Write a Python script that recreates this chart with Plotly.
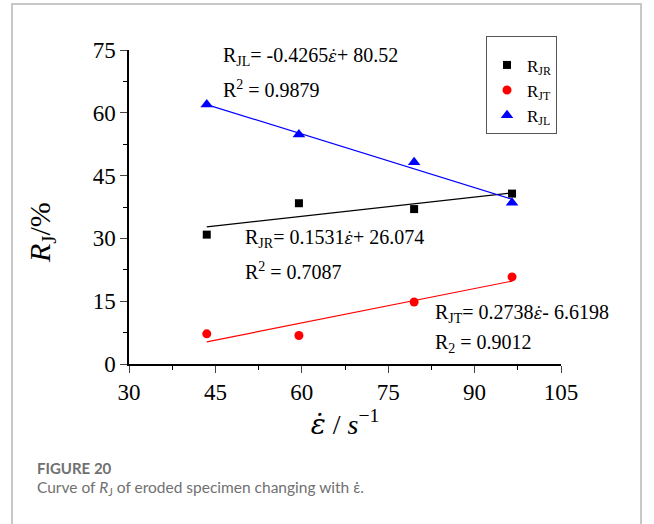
import plotly.graph_objects as go

# ---- data ----
strain_rate = [43.5, 59.5, 79.5, 96.5]
R_JR = [30.9, 38.4, 37.0, 40.7]
R_JT = [7.2, 6.8, 14.8, 20.8]
R_JL = [62.0, 54.8, 48.2, 38.5]
# linear fits (slope, intercept) as printed on the chart
fit_JR = (0.1531, 26.074)
fit_JT = (0.2738, -6.6198)
fit_JL = (-0.4265, 80.52)
x_ticks = [30, 45, 60, 75, 90, 105]
y_ticks = [0, 15, 30, 45, 60, 75]

SERIF = "Liberation Serif"
EPS = '<span style="font-family:DejaVu Serif">ε\u0307</span>'
EPS_S = '<span style="font-family:DejaVu Serif;font-size:16px">ε\u0307</span>'

fig = go.Figure()

def fit_line(coef):
    xs = [min(strain_rate), max(strain_rate)]
    return xs, [coef[0] * x + coef[1] for x in xs]

for coef, col in [(fit_JR, "black"), (fit_JT, "red"), (fit_JL, "blue")]:
    xs, ys = fit_line(coef)
    fig.add_trace(go.Scatter(x=xs, y=ys, mode="lines", line=dict(color=col, width=1.2),
                             showlegend=False, hoverinfo="skip"))

fig.add_trace(go.Scatter(x=strain_rate, y=R_JR, mode="markers", name="R<sub>JR</sub>",
                         marker=dict(symbol="square", size=8, color="black")))
fig.add_trace(go.Scatter(x=strain_rate, y=R_JT, mode="markers", name="R<sub>JT</sub>",
                         marker=dict(symbol="circle", size=9, color="red")))
fig.add_trace(go.Scatter(x=strain_rate, y=R_JL, mode="markers", name="R<sub>JL</sub>",
                         marker=dict(symbol="triangle-up", size=11, color="blue")))

W, H = 654, 524
ML, MR, MT, MB = 129, 93, 50, 160
PW, PH = W - ML - MR, H - MT - MB

def px(xp):
    return (xp - ML) / PW

def py(yp):
    return (MT + PH - yp) / PH

ann_font = dict(family=SERIF, size=20, color="black")
anns = [
    (221, 56, f"R<sub>JL</sub>= -0.4265<i>{EPS_S}</i>+ 80.52"),
    (221, 89, "R<sup>2</sup> = 0.9879"),
    (243, 238, f"R<sub>JR</sub>= 0.1531<i>{EPS_S}</i>+ 26.074"),
    (243, 271, "R<sup>2</sup> = 0.7087"),
    (433, 313, f"R<sub>JT</sub>= 0.2738<i>{EPS_S}</i>- 6.6198"),
    (433, 343, "R<sub>2</sub> = 0.9012"),
]
for x, y, t in anns:
    fig.add_annotation(x=px(x), y=py(y), xref="paper", yref="paper", text=t,
                       showarrow=False, xanchor="left", yanchor="middle", font=ann_font)

# y-axis title (placed to match the reference, slightly below centre)
fig.add_annotation(x=px(42), y=py(233), xref="paper", yref="paper",
                   text="<i>R</i><sub>J</sub>/%", textangle=-90, showarrow=False,
                   xanchor="center", yanchor="middle",
                   font=dict(family=SERIF, size=30, color="black"))

# caption
CAP = "Lato, Open Sans, sans-serif"
fig.add_annotation(x=px(35), y=py(468), xref="paper", yref="paper", text="<b>FIGURE 20</b>",
                   showarrow=False, xanchor="left", yanchor="middle",
                   font=dict(family=CAP, size=15, color="#707070"))
fig.add_annotation(x=px(35), y=py(488), xref="paper", yref="paper",
                   text="Curve of <i>R</i><sub>J</sub> of eroded specimen changing with ε\u0307.",
                   showarrow=False, xanchor="left", yanchor="middle",
                   font=dict(family=CAP, size=15.5, color="#707070"))

# page frame
fig.add_shape(type="rect", xref="paper", yref="paper",
              x0=px(12), x1=px(641), y0=py(540), y1=py(4),
              line=dict(color="#c8c8c8", width=2), fillcolor="rgba(0,0,0,0)", layer="below")

fig.update_layout(
    width=W, height=H,
    margin=dict(l=ML, r=MR, t=MT, b=MB, pad=0),
    paper_bgcolor="white", plot_bgcolor="white",
    font=dict(family=SERIF, color="black"),
    showlegend=True,
    legend=dict(x=px(486), y=py(36), xanchor="left", yanchor="top",
                bordercolor="#555555", borderwidth=1, bgcolor="white",
                font=dict(family=SERIF, size=17), itemwidth=30,
                title=dict(text=" ", font=dict(size=8)),
                tracegroupgap=0),
    xaxis=dict(range=[30, 105], tickvals=x_ticks, ticks="outside", ticklen=7, tickwidth=1,
               showline=True, linecolor="black", linewidth=1.5, showgrid=False, zeroline=False,
               tickfont=dict(family=SERIF, size=23),
               minor=dict(dtick=7.5, tick0=30, ticks="outside", ticklen=4, tickcolor="black"),
               title=dict(text=f"<i>{EPS}</i> / <i>s</i><sup>−1</sup>", font=dict(family=SERIF, size=28),
                          standoff=0)),
    yaxis=dict(range=[0, 75], tickvals=y_ticks, ticks="outside", ticklen=7, tickwidth=1,
               showline=True, linecolor="black", linewidth=1.5, showgrid=False, zeroline=False,
               tickfont=dict(family=SERIF, size=23),
               minor=dict(dtick=7.5, tick0=0, ticks="outside", ticklen=4, tickcolor="black")),
)

fig.write_html("out.html")
